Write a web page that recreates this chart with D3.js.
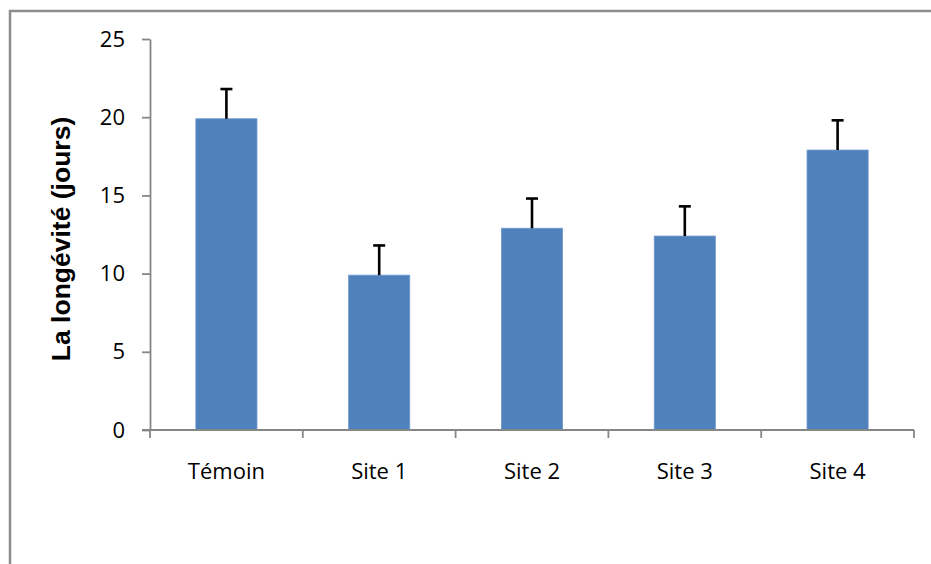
<!DOCTYPE html>
<html>
<head>
<meta charset="utf-8">
<script src="https://cdn.jsdelivr.net/npm/d3@7"></script>
<style>
html,body{margin:0;padding:0;background:#fff;}
svg{display:block;}
</style>
</head>
<body>
<svg id="chart" width="931" height="564"></svg>
<script>
const categories = ["Témoin", "Site 1", "Site 2", "Site 3", "Site 4"];
const means = [19.9, 9.9, 12.9, 12.4, 17.9];
const errors = [1.9, 1.9, 1.9, 1.9, 1.9];
const yTicks = [0, 5, 10, 15, 20, 25];
const yLabel = "La longévité (jours)";

const svg = d3.select("#chart");
const W = 931, H = 564;
const plot = {left: 150, right: 914, top: 39, bottom: 430};
const font = "'Open Sans', 'Liberation Sans', sans-serif";

// outer frame (right and bottom edges lie outside the picture)
svg.append("rect")
  .attr("x", 10).attr("y", 11)
  .attr("width", 1200).attr("height", 1200)
  .attr("fill", "none").attr("stroke", "#8c8c8c").attr("stroke-width", 2.5);

const y = d3.scaleLinear().domain([0, 25]).range([plot.bottom, plot.top]);
const xOuter = d3.scaleBand().domain(categories).range([plot.left, plot.right]).padding(0);
const xBar = d3.scaleBand().domain(categories).range([plot.left, plot.right])
  .paddingInner(0.6).paddingOuter(0.3);

// bars
svg.append("g").selectAll("rect").data(categories).join("rect")
  .attr("x", d => xBar(d))
  .attr("y", (d, i) => y(means[i]))
  .attr("width", xBar.bandwidth())
  .attr("height", (d, i) => y(0) - y(means[i]))
  .attr("fill", "#4f81bd")
  .attr("stroke", "#6f98cc").attr("stroke-width", 0.8);

// error bars (upward only)
const eg = svg.append("g").attr("stroke", "#000").attr("stroke-width", 2.6);
categories.forEach((c, i) => {
  const cx = xBar(c) + xBar.bandwidth() / 2;
  eg.append("line").attr("x1", cx).attr("x2", cx)
    .attr("y1", y(means[i])).attr("y2", y(means[i] + errors[i]));
  eg.append("line").attr("x1", cx - 6).attr("x2", cx + 6)
    .attr("y1", y(means[i] + errors[i])).attr("y2", y(means[i] + errors[i]));
});

// y axis
const yAxis = svg.append("g").attr("transform", `translate(${plot.left},0)`)
  .call(d3.axisLeft(y).tickValues(yTicks).tickSize(8).tickSizeOuter(0).tickPadding(17).tickFormat(d3.format("d")));
yAxis.select(".domain").attr("stroke", "#868686").attr("stroke-width", 1.8);
yAxis.selectAll(".tick line").attr("stroke", "#868686").attr("stroke-width", 1.8);
yAxis.selectAll(".tick text").attr("font-family", font).attr("font-size", 22).attr("fill", "#000");

// x axis line + boundary ticks
const xg = svg.append("g");
xg.append("line").attr("x1", plot.left - 8).attr("x2", plot.right)
  .attr("y1", y(0)).attr("y2", y(0)).attr("stroke", "#868686").attr("stroke-width", 1.8);
const bounds = categories.map(c => xOuter(c)).concat([xOuter.range()[1]]);
xg.selectAll("line.tk").data(bounds).join("line").attr("class", "tk")
  .attr("x1", d => d).attr("x2", d => d)
  .attr("y1", y(0)).attr("y2", y(0) + 8)
  .attr("stroke", "#868686").attr("stroke-width", 1.8);
xg.selectAll("text").data(categories).join("text")
  .attr("x", d => xOuter(d) + xOuter.bandwidth() / 2)
  .attr("y", 479)
  .attr("text-anchor", "middle")
  .attr("font-family", font).attr("font-size", 22).attr("fill", "#000")
  .text(d => d);

// y label
svg.append("text")
  .attr("transform", "translate(70,239) rotate(-90)")
  .attr("text-anchor", "middle")
  .attr("font-family", "'Liberation Sans', Arial, sans-serif")
  .attr("font-weight", "bold").attr("font-size", 26.5).attr("fill", "#000")
  .text(yLabel);
</script>
</body>
</html>
